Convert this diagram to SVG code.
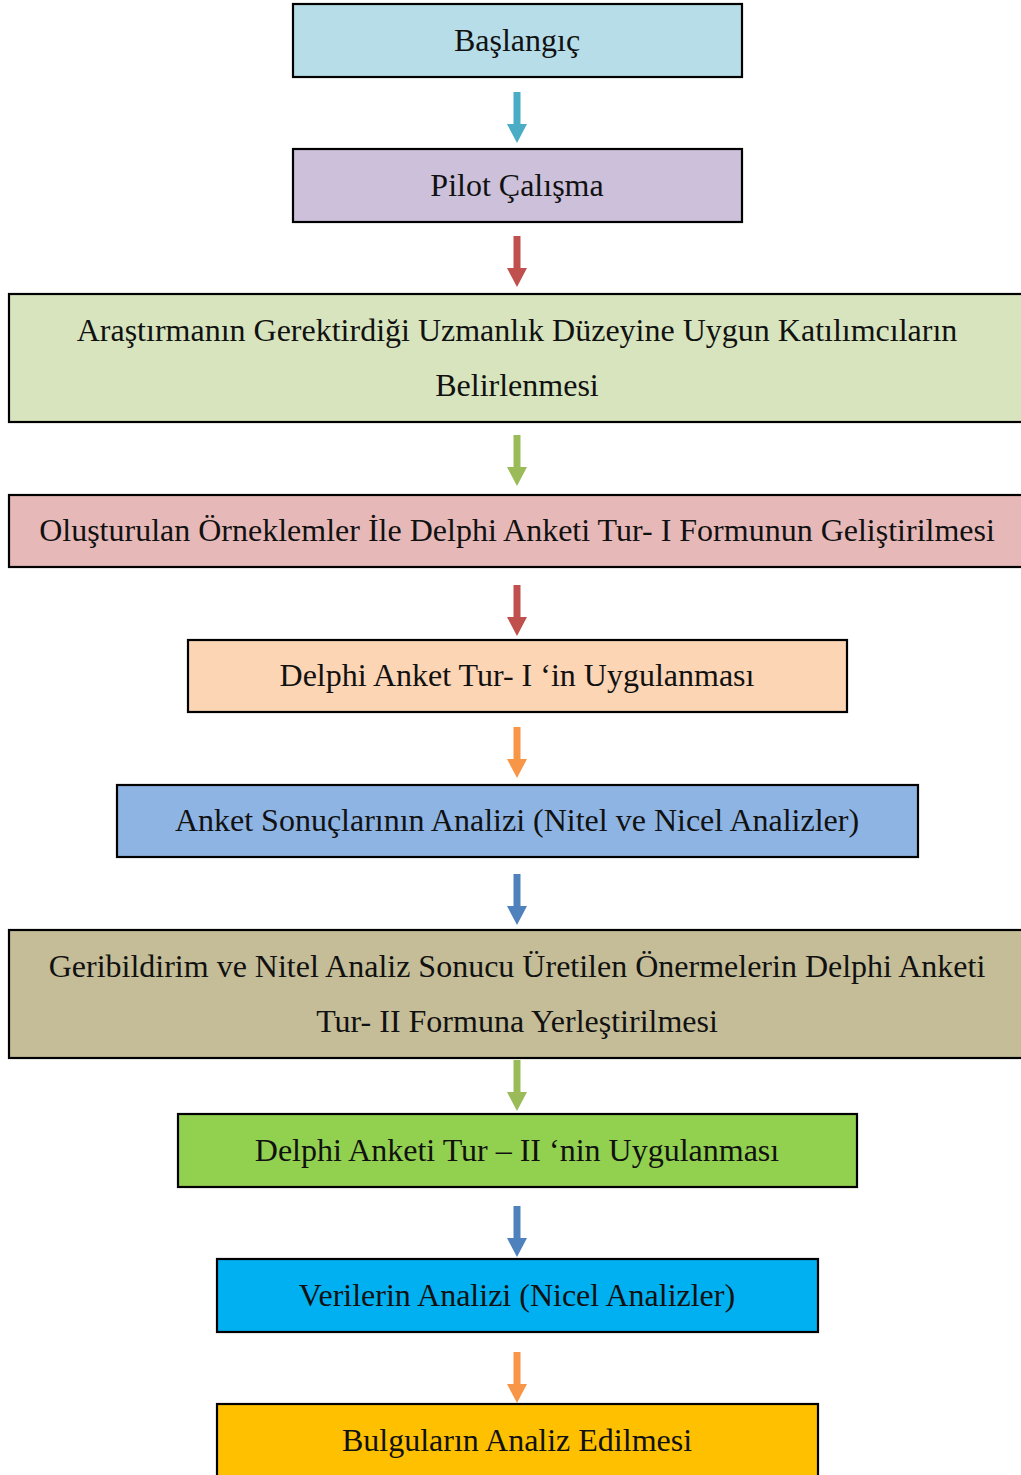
<svg xmlns="http://www.w3.org/2000/svg" width="1021" height="1475" viewBox="0 0 1021 1475">
<style>
.b{stroke:#000;stroke-width:2.2}
.t{font-family:"Liberation Serif","Times New Roman",serif;font-size:32px;fill:#111;text-anchor:middle}
</style>
<defs>
<path id="arr" d="M-3.5,0 H3.5 V32 H10 L0,51 L-10,32 H-3.5 Z"/>
</defs>
<rect width="1021" height="1475" fill="#fff"/>
<g id="connectors">
<use href="#arr" x="517" y="92" fill="#4BACC6"/>
<use href="#arr" x="517" y="236" fill="#C0504D"/>
<use href="#arr" x="517" y="435" fill="#9BBB59"/>
<use href="#arr" x="517" y="585" fill="#C0504D"/>
<use href="#arr" x="517" y="727" fill="#F79646"/>
<use href="#arr" x="517" y="874" fill="#4F81BD"/>
<use href="#arr" x="517" y="1060" fill="#9BBB59"/>
<use href="#arr" x="517" y="1206" fill="#4F81BD"/>
<use href="#arr" x="517" y="1352" fill="#F79646"/>
</g>
<g id="n1"><rect class="b" x="293" y="4" width="449" height="73" fill="#B7DDE8"/><text class="t" x="517" y="51">Başlangıç</text></g>
<g id="n2"><rect class="b" x="293" y="149" width="449" height="73" fill="#CCC0DA"/><text class="t" x="517" y="196">Pilot Çalışma</text></g>
<g id="n3"><rect class="b" x="9" y="294" width="1014" height="128" fill="#D7E4BD"/><text class="t" x="517" y="341">Araştırmanın Gerektirdiği Uzmanlık Düzeyine Uygun Katılımcıların</text><text class="t" x="517" y="396">Belirlenmesi</text></g>
<g id="n4"><rect class="b" x="9" y="495" width="1014" height="72" fill="#E6B9B8"/><text class="t" x="517" y="541">Oluşturulan Örneklemler İle Delphi Anketi Tur- I Formunun Geliştirilmesi</text></g>
<g id="n5"><rect class="b" x="188" y="640" width="659" height="72" fill="#FCD5B5"/><text class="t" x="517" y="686">Delphi Anket Tur- I ‘in Uygulanması</text></g>
<g id="n6"><rect class="b" x="117" y="785" width="801" height="72" fill="#8EB4E3"/><text class="t" x="517" y="831">Anket Sonuçlarının Analizi (Nitel ve Nicel Analizler)</text></g>
<g id="n7"><rect class="b" x="9" y="930" width="1014" height="128" fill="#C4BD97"/><text class="t" x="517" y="977">Geribildirim ve Nitel Analiz Sonucu Üretilen Önermelerin Delphi Anketi</text><text class="t" x="517" y="1032">Tur- II Formuna Yerleştirilmesi</text></g>
<g id="n8"><rect class="b" x="178" y="1114" width="679" height="73" fill="#92D050"/><text class="t" x="517" y="1161">Delphi Anketi Tur – II ‘nin Uygulanması</text></g>
<g id="n9"><rect class="b" x="217" y="1259" width="601" height="73" fill="#00B0F0"/><text class="t" x="517" y="1306">Verilerin Analizi (Nicel Analizler)</text></g>
<g id="n10"><rect class="b" x="217" y="1404" width="601" height="75" fill="#FFC000"/><text class="t" x="517" y="1451">Bulguların Analiz Edilmesi</text></g>
</svg>
